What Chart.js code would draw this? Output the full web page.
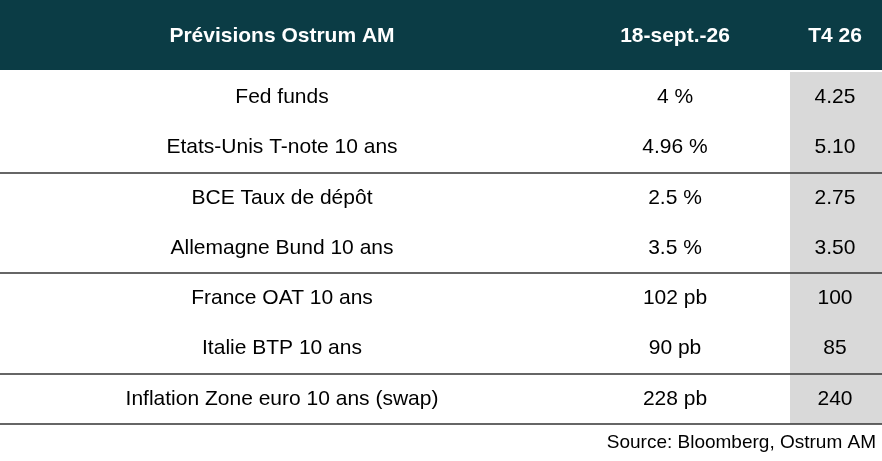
<!DOCTYPE html>
<html>
<head>
<meta charset="utf-8">
<script src="https://cdn.jsdelivr.net/npm/chart.js@4"></script>
<style>
  html, body { margin: 0; padding: 0; background: #fff; }
  #wrap { width: 882px; height: 461px; }
</style>
</head>
<body>
<div id="wrap"><canvas id="tbl"></canvas></div>
<script>
const headers = ['Prévisions Ostrum AM', '18-sept.-26', 'T4 26'];
const rows = ['Fed funds', 'Etats-Unis T-note 10 ans', 'BCE Taux de dépôt', 'Allemagne Bund 10 ans',
  'France OAT 10 ans', 'Italie BTP 10 ans', 'Inflation Zone euro 10 ans (swap)'];
const current = ['4 %', '4.96 %', '2.5 %', '3.5 %', '102 pb', '90 pb', '228 pb'];
const forecast = ['4.25', '5.10', '2.75', '3.50', '100', '85', '240'];
const groupEnds = [1, 3, 5, 6];
const source = 'Source: Bloomberg, Ostrum AM';

const FONT = '"Liberation Sans", sans-serif';

const tablePlugin = {
  id: 'tablePlugin',
  beforeDatasetsDraw(chart) {
    const { ctx, chartArea: a, scales: { x, y } } = chart;
    const W = chart.width;
    ctx.save();
    // header band
    ctx.fillStyle = '#0b3c45';
    ctx.fillRect(0, 0, W, a.top - 2);
    // grey forecast column
    ctx.fillStyle = '#d9d9d9';
    ctx.fillRect(x.getPixelForValue(790), a.top, W - x.getPixelForValue(790), a.bottom - a.top);

    ctx.textAlign = 'center';
    ctx.textBaseline = 'middle';
    ctx.fillStyle = '#fff';
    ctx.font = 'bold 21px ' + FONT;
    const cols = [282, 675, 835];
    headers.forEach((h, i) => ctx.fillText(h, x.getPixelForValue(cols[i]), (a.top - 2) / 2 + 1));

    ctx.fillStyle = '#000';
    ctx.font = '21px ' + FONT;
    const half = (y.getPixelForValue(1) - y.getPixelForValue(0)) / 2;
    rows.forEach((r, i) => {
      const py = y.getPixelForValue(i);
      ctx.fillText(r, x.getPixelForValue(cols[0]), py);
      ctx.fillText(current[i], x.getPixelForValue(cols[1]), py);
      ctx.fillText(forecast[i], x.getPixelForValue(cols[2]), py);
    });
    ctx.strokeStyle = '#333';
    ctx.lineWidth = 1.5;
    groupEnds.forEach(g => {
      const py = Math.round(y.getPixelForValue(g) + half);
      ctx.beginPath();
      ctx.moveTo(0, py);
      ctx.lineTo(W, py);
      ctx.stroke();
    });
    ctx.textAlign = 'right';
    ctx.font = '19px ' + FONT;
    ctx.fillText(source, W - 6, a.bottom + 19);
    ctx.restore();
  }
};

new Chart(document.getElementById('tbl'), {
  type: 'bar',
  data: { labels: rows, datasets: [{ data: [], indexAxis: 'y' }] },
  options: {
    indexAxis: 'y',
    responsive: true,
    maintainAspectRatio: false,
    animation: false,
    layout: { padding: { top: 72, bottom: 37, left: 0, right: 0 } },
    plugins: { legend: { display: false }, tooltip: { enabled: false } },
    scales: {
      x: { type: 'linear', min: 0, max: 882, display: false },
      y: { type: 'category', display: false, offset: true }
    }
  },
  plugins: [tablePlugin]
});
</script>
</body>
</html>
